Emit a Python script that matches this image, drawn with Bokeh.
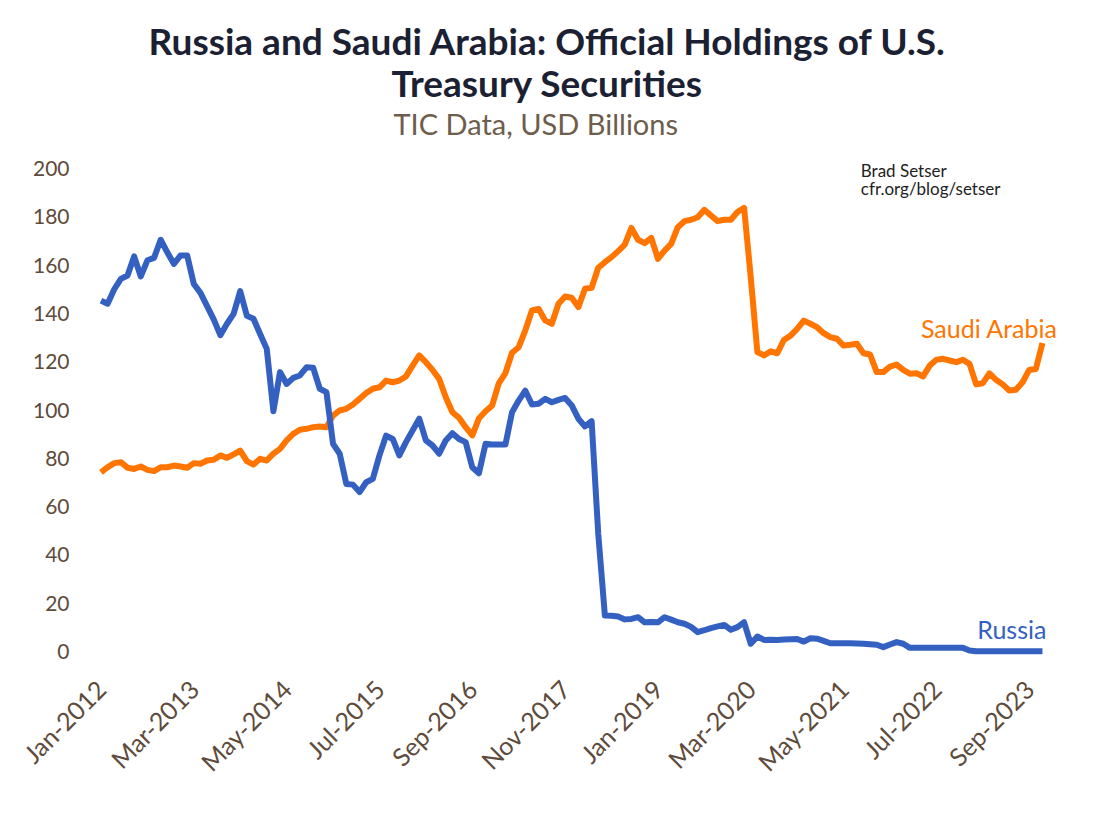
import math
import pandas as pd
from bokeh.plotting import figure
from bokeh.models import ColumnDataSource, FixedTicker, Range1d, Title, Label
from bokeh.embed import file_html
from bokeh.resources import INLINE

# ---------------- data ----------------
months = list(pd.date_range("2012-01-01", periods=143, freq="MS").strftime("%b-%Y"))

russia = [
    145.3, 144.0, 150.0, 154.3, 155.7, 163.6, 155.3, 162.0, 163.0, 170.5, 165.3, 160.5,
    164.0, 164.0, 152.2, 148.5, 143.0, 137.5, 131.0, 135.7, 139.8, 149.2, 139.0, 137.8,
    131.5, 125.3, 99.5, 115.7, 110.8, 113.3, 114.3, 117.7, 117.5, 108.8, 107.4, 86.0,
    81.9, 69.4, 69.1, 66.0, 70.1, 71.5, 81.2, 89.4, 88.0, 81.2, 86.7, 91.5,
    96.4, 87.4, 85.3, 81.9, 87.4, 90.4, 88.0, 86.7, 76.3, 73.8, 86.0, 85.7,
    85.7, 85.7, 99.1, 103.9, 108.0, 102.3, 102.6, 104.6, 103.2, 104.2, 105.0, 101.9,
    96.4, 93.2, 95.4, 48.7, 14.9, 14.8, 14.5, 13.3, 13.5, 14.2, 12.1, 12.2,
    12.1, 14.2, 13.2, 12.1, 11.5, 10.2, 8.0, 8.8, 9.7, 10.4, 11.0, 9.0,
    10.1, 12.1, 3.2, 6.2, 4.8, 4.9, 4.8, 5.0, 5.1, 5.2, 4.1, 5.5,
    5.3, 4.4, 3.4, 3.4, 3.4, 3.4, 3.3, 3.2, 3.0, 2.8, 1.8, 2.9,
    3.9, 3.2, 1.5, 1.5, 1.5, 1.5, 1.5, 1.5, 1.5, 1.5, 1.5, 0.4,
    0.1, 0.1, 0.1, 0.1, 0.1, 0.1, 0.1, 0.1, 0.1, 0.1, 0.1,
]

saudi = [
    74.2, 76.3, 78.0, 78.4, 76.1, 75.6, 76.6, 75.2, 74.7, 76.3, 76.3, 77.0,
    76.6, 76.1, 78.0, 77.7, 79.1, 79.4, 81.2, 80.2, 81.6, 83.2, 78.8, 77.4,
    79.8, 79.1, 81.9, 83.9, 87.4, 90.1, 91.8, 92.2, 92.9, 93.2, 92.9, 97.7,
    99.8, 100.5, 102.3, 104.6, 107.0, 108.8, 109.4, 112.2, 111.5, 112.2, 113.9, 118.4,
    122.6, 119.8, 116.6, 112.9, 105.3, 99.1, 96.8, 92.9, 89.5, 96.5, 99.5, 101.9,
    111.0, 115.3, 123.7, 126.0, 133.0, 141.2, 141.9, 137.1, 135.7, 144.0, 147.0, 146.5,
    142.6, 150.2, 150.6, 158.9, 161.2, 163.3, 165.8, 168.5, 175.4, 170.5, 169.1, 171.3,
    162.6, 166.0, 168.8, 175.7, 178.2, 178.8, 179.8, 182.9, 180.5, 178.2, 178.8, 178.8,
    182.0, 183.7, 155.0, 124.0, 122.6, 124.3, 123.5, 129.0, 130.8, 133.6, 137.0, 135.7,
    134.3, 131.8, 130.2, 129.5, 126.7, 127.0, 127.4, 123.5, 123.0, 115.7, 115.7, 118.0,
    118.8, 116.6, 115.0, 115.2, 113.9, 118.4, 120.8, 121.2, 120.5, 119.8, 120.8, 119.1,
    110.6, 111.1, 115.2, 112.5, 110.6, 108.1, 108.4, 111.5, 116.6, 117.0, 127.7,
]

x_tick_idx = list(range(0, 141, 14))
x_tick_labels = [months[i] for i in x_tick_idx]
y_ticks = [0, 20, 40, 60, 80, 100, 120, 140, 160, 180, 200]

# ---------------- styling ----------------
BLUE = "#3461C1"
ORANGE = "#FF7500"
BROWN = "#5E4B3C"
TITLE_C = "#1B2133"
FONT = "Lato"

src = ColumnDataSource(dict(i=list(range(len(months))), month=months,
                            russia=russia, saudi=saudi))

p = figure(width=1084, height=806, output_backend="svg", toolbar_location=None,
           title=None,
           x_range=Range1d(-1.885, 144.72), y_range=Range1d(-7.87, 211.6),
           min_border_left=88, min_border_right=24, min_border_top=140,
           min_border_bottom=136)
p.background_fill_color = "white"
p.border_fill_color = "white"
p.outline_line_color = None
p.xgrid.grid_line_color = None
p.ygrid.grid_line_color = None

p.line("i", "saudi", source=src, line_color=ORANGE, line_width=6, line_join="round")
p.line("i", "russia", source=src, line_color=BLUE, line_width=6, line_join="round")

# axes
p.xaxis.ticker = FixedTicker(ticks=x_tick_idx)
p.xaxis.major_label_overrides = {i: lab for i, lab in zip(x_tick_idx, x_tick_labels)}
p.xaxis.major_label_orientation = math.pi / 4
p.yaxis.ticker = FixedTicker(ticks=y_ticks)
for ax in (p.xaxis[0], p.yaxis[0]):
    ax.axis_line_color = None
    ax.major_tick_line_color = None
    ax.minor_tick_line_color = None
    ax.major_label_text_color = BROWN
    ax.major_label_text_font = FONT
p.yaxis.major_label_text_font_size = "21px"
p.xaxis.major_label_text_font_size = "25px"
p.yaxis.major_label_standoff = 13
p.xaxis.major_label_standoff = 8

# titles (added from the frame outward)
p.add_layout(Title(text="TIC Data, USD Billions", text_font=FONT, text_font_size="29px",
                   text_font_style="normal", text_color="#6E5C4C", align="left",
                   offset=305, standoff=0), "above")
p.add_layout(Title(text="Treasury Securities", text_font=FONT, text_font_size="37px",
                   text_font_style="bold", text_color=TITLE_C, align="left",
                   offset=303, standoff=-2), "above")
p.add_layout(Title(text="Russia and Saudi Arabia: Official Holdings of U.S.", text_font=FONT,
                   text_font_size="37px", text_font_style="bold", text_color=TITLE_C,
                   align="left", offset=60, standoff=-8), "above")

# annotations
p.add_layout(Label(x=114.6, y=199.3, text="Brad Setser", text_font=FONT,
                   text_font_size="17px", text_color="#222222", text_baseline="alphabetic"))
p.add_layout(Label(x=114.6, y=191.8, text="cfr.org/blog/setser", text_font=FONT,
                   text_font_size="17px", text_color="#222222", text_baseline="alphabetic"))
p.add_layout(Label(x=144.3, y=134, text="Saudi Arabia", text_font=FONT,
                   text_font_size="25px", text_color=ORANGE, text_align="right",
                   text_baseline="alphabetic"))
p.add_layout(Label(x=142.6, y=9.5, text="Russia", text_font=FONT,
                   text_font_size="25px", text_color=BLUE, text_align="right",
                   text_baseline="alphabetic"))

open("out.html", "w").write(file_html(p, INLINE))
